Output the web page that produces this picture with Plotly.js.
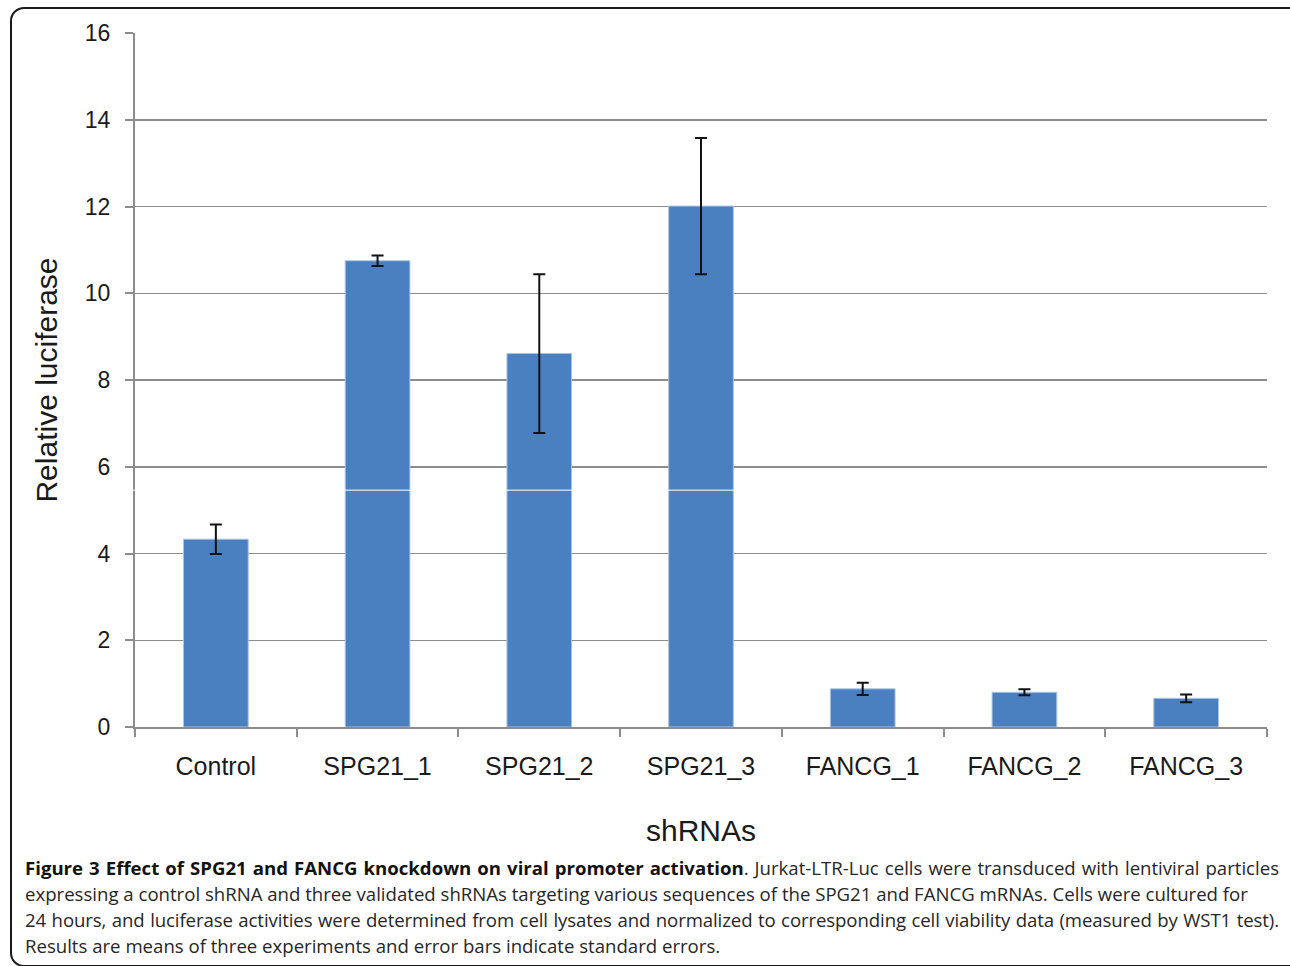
<!DOCTYPE html>
<html>
<head>
<meta charset="utf-8">
<script src="https://cdn.plot.ly/plotly-3.0.1.min.js"></script>
<style>
  html, body { margin: 0; padding: 0; background: #fff; overflow: hidden; }
  #frame { position: absolute; left: 10px; top: 7px; width: 1310px; height: 960px;
           border: 2px solid #1a1a1a; border-radius: 14px; box-sizing: border-box; }
  #chart { position: absolute; left: 0; top: 0; width: 1290px; height: 850px; }
  #caption { position: absolute; left: 25px; top: 855px; width: 1254px;
             font-family: "Open Sans", "Noto Sans", sans-serif; font-size: 18.6px;
             color: #262626; line-height: 26px; }
  #caption div { white-space: nowrap; }
  #caption .j { text-align: justify; text-align-last: justify; white-space: normal; }
  #caption .t { letter-spacing: -0.1px; }
  #caption b { color: #111; }
</style>
</head>
<body>
<div id="frame"></div>
<div id="chart"></div>
<div id="caption">
  <div class="j"><b>Figure 3 Effect of SPG21 and FANCG knockdown on viral promoter activation</b>. Jurkat-LTR-Luc cells were transduced with lentiviral particles</div>
  <div>expressing a control shRNA and three validated shRNAs targeting various sequences of the SPG21 and FANCG mRNAs. Cells were cultured for</div>
  <div class="j t">24 hours, and luciferase activities were determined from cell lysates and normalized to corresponding cell viability data (measured by WST1 test).</div>
  <div>Results are means of three experiments and error bars indicate standard errors.</div>
</div>
<script>
const categories = ["Control", "SPG21_1", "SPG21_2", "SPG21_3", "FANCG_1", "FANCG_2", "FANCG_3"];
const values = [4.33, 10.75, 8.61, 12.01, 0.88, 0.80, 0.66];
const errors = [0.34, 0.12, 1.83, 1.57, 0.14, 0.07, 0.09];
const yTicks = [0, 2, 4, 6, 8, 10, 12, 14, 16];

const trace = {
  type: "bar",
  x: categories,
  y: values,
  marker: { color: "#4a80bf", line: { color: "#a9c3e4", width: 1 } },
  error_y: { type: "data", array: errors, visible: true, color: "#111", thickness: 2, width: 6 },
  hoverinfo: "x+y"
};

const layout = {
  width: 1290, height: 850,
  margin: { l: 135, r: 23, t: 33, b: 123 },
  paper_bgcolor: "rgba(0,0,0,0)",
  plot_bgcolor: "#fff",
  bargap: 0.6,
  showlegend: false,
  font: { family: "Liberation Sans, Arial, sans-serif", color: "#1a1a1a" },
  xaxis: {
    type: "category",
    showline: true, linecolor: "#8c8c8c", linewidth: 2,
    ticks: "outside", tickson: "boundaries", ticklen: 8, tickcolor: "#8c8c8c", tickwidth: 2,
    ticklabelstandoff: 16,
    tickfont: { size: 25, color: "#1a1a1a" },
    showgrid: false, zeroline: false,
    title: { text: "shRNAs", font: { size: 30, color: "#1a1a1a" }, standoff: 41 }
  },
  yaxis: {
    range: [0, 16],
    tickvals: yTicks,
    showline: true, linecolor: "#8c8c8c", linewidth: 2,
    ticks: "outside", ticklen: 8, tickcolor: "#8c8c8c", tickwidth: 2,
    ticklabelstandoff: 10,
    tickfont: { size: 23, color: "#1a1a1a" },
    showgrid: true, gridcolor: "#8c8c8c", gridwidth: 1.5,
    zeroline: false,
    title: { text: "Relative luciferase", font: { size: 30, color: "#1a1a1a" }, standoff: 18 }
  },
  shapes: [
    { type: "line", xref: "paper", yref: "y", x0: -0.004, x1: 1, y0: 5.46, y1: 5.46,
      line: { color: "#ffffff", width: 1 } }
  ]
};

Plotly.newPlot("chart", [trace], layout, { displayModeBar: false, staticPlot: true });
</script>
</body>
</html>
